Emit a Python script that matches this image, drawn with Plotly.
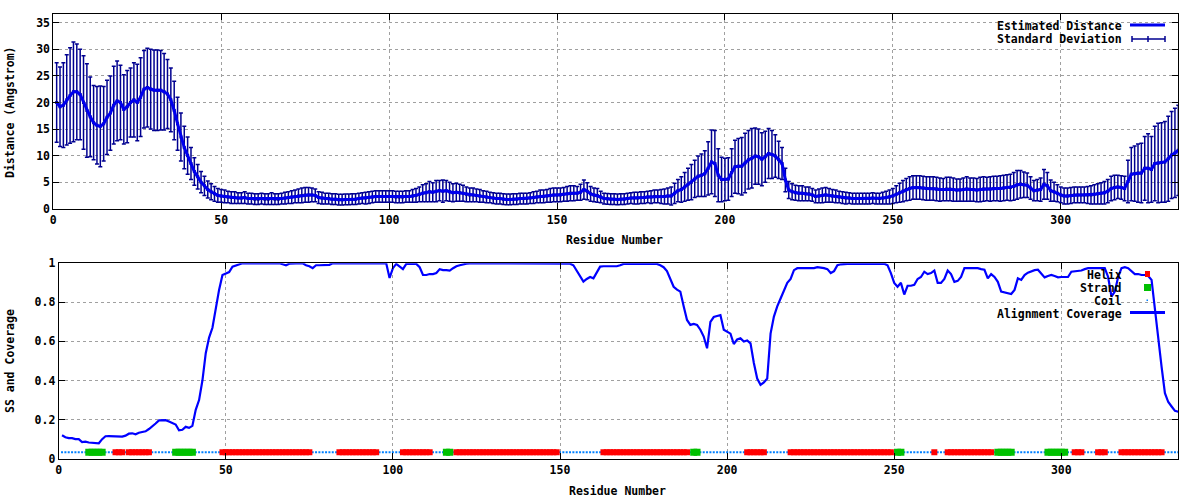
import plotly.graph_objects as go

# ---------------- data ----------------
residues = list(range(1, 336))

est_distance = [
    20.0, 19.2, 19.5, 20.5, 21.3, 22.0, 22.0, 21.5, 20.0, 18.5,
    17.3, 16.2, 15.7, 15.5, 16.0, 17.2, 18.0, 19.5, 20.3, 20.0,
    18.7, 19.2, 20.0, 20.5, 20.0, 21.0, 22.5, 22.8, 22.5, 22.3,
    22.3, 22.3, 22.0, 21.6, 20.5, 18.5, 16.0, 13.5, 11.5, 10.0,
    8.5, 7.0, 6.0, 5.0, 4.3, 3.6, 3.2, 2.8, 2.5, 2.4,
    2.3, 2.2, 2.1, 2.1, 2.0, 2.0, 2.1, 1.9, 1.9, 1.8,
    1.8, 1.9, 1.8, 1.8, 1.9, 1.8, 1.8, 1.9, 2.0, 2.1,
    2.2, 2.3, 2.4, 2.5, 2.6, 2.6, 2.6, 2.5, 2.1, 2.0,
    1.9, 1.9, 1.8, 1.8, 1.7, 1.7, 1.75, 1.75, 1.8, 1.8,
    1.9, 2.0, 2.0, 2.1, 2.2, 2.3, 2.3, 2.3, 2.3, 2.3,
    2.3, 2.2, 2.2, 2.2, 2.3, 2.3, 2.4, 2.5, 2.7, 2.9,
    3.0, 3.2, 3.1, 3.3, 3.4, 3.3, 3.4, 3.2, 3.0, 3.1,
    3.0, 2.9, 2.7, 2.6, 2.6, 2.5, 2.4, 2.3, 2.2, 2.1,
    2.0, 1.9, 1.9, 1.8, 1.75, 1.75, 1.8, 1.8, 1.9, 1.9,
    1.9, 2.0, 2.1, 2.2, 2.3, 2.3, 2.4, 2.5, 2.6, 2.6,
    2.6, 2.7, 2.8, 2.9, 2.9, 2.9, 3.1, 3.6, 3.3, 2.8,
    2.6, 2.5, 2.2, 1.9, 1.85, 1.8, 1.8, 1.75, 1.8, 1.8,
    1.9, 2.0, 2.0, 2.0, 2.1, 2.1, 2.2, 2.2, 2.3, 2.3,
    2.3, 2.3, 2.4, 2.4, 2.9, 3.4, 3.6, 4.1, 4.6, 5.0,
    5.6, 6.1, 6.3, 6.6, 7.6, 8.8, 8.5, 6.3, 5.5, 5.5,
    5.6, 6.8, 7.9, 8.0, 8.0, 8.6, 9.2, 9.5, 9.9, 9.8,
    9.3, 9.8, 10.4, 10.2, 9.9, 9.2, 8.5, 5.4, 3.5, 3.2,
    3.0, 2.9, 2.9, 2.8, 2.8, 2.6, 2.3, 2.4, 2.5, 2.6,
    2.5, 2.4, 2.3, 2.2, 2.1, 2.0, 2.0, 1.9, 1.9, 1.9,
    1.9, 1.9, 1.9, 2.0, 1.9, 1.9, 2.0, 2.1, 2.2, 2.4,
    2.7, 3.0, 3.3, 3.6, 3.8, 4.0, 4.0, 4.0, 3.9, 3.8,
    3.8, 3.8, 3.7, 3.6, 3.6, 3.7, 3.7, 3.6, 3.5, 3.5,
    3.6, 3.7, 3.6, 3.6, 3.5, 3.6, 3.7, 3.7, 3.7, 3.8,
    3.8, 3.8, 3.9, 4.0, 4.0, 4.2, 4.5, 4.6, 4.5, 4.4,
    3.9, 3.4, 3.5, 3.6, 4.6, 4.3, 3.4, 3.2, 2.9, 2.6,
    2.4, 2.4, 2.5, 2.6, 2.6, 2.6, 2.6, 2.6, 2.6, 2.7,
    2.8, 2.9, 3.0, 3.3, 3.8, 4.0, 4.1, 4.0, 3.8, 5.1,
    6.5, 6.6, 6.7, 6.7, 7.6, 7.6, 7.4, 8.5, 8.6, 8.7,
    8.8, 9.4, 10.1, 10.5, 11.0,
]

std_deviation = [
    7.5, 7.5, 8.0, 8.5, 9.0, 9.4, 9.0, 8.5, 8.8, 8.8,
    7.5, 7.0, 7.3, 7.6, 7.0, 7.0, 7.0, 7.3, 7.5, 7.0,
    6.5, 6.8, 6.5, 7.0, 7.2, 7.4, 7.3, 7.4, 7.5, 7.6,
    7.6, 7.5, 7.2, 6.5, 6.0, 5.5, 5.0, 4.5, 4.0, 3.5,
    3.0, 2.6, 2.3, 2.0, 1.8, 1.6, 1.5, 1.4, 1.3, 1.2,
    1.2, 1.1, 1.1, 1.1, 1.0, 1.0, 1.1, 1.0, 1.0, 1.0,
    1.0, 1.0, 1.0, 1.0, 1.1, 1.0, 1.0, 1.0, 1.1, 1.1,
    1.2, 1.2, 1.3, 1.4, 1.4, 1.4, 1.3, 1.2, 1.1, 1.1,
    1.0, 1.0, 1.0, 1.0, 1.0, 1.0, 1.0, 1.0, 1.0, 1.0,
    1.0, 1.0, 1.1, 1.1, 1.1, 1.1, 1.1, 1.1, 1.1, 1.1,
    1.1, 1.1, 1.1, 1.1, 1.1, 1.1, 1.2, 1.3, 1.4, 1.6,
    1.7, 1.9, 1.8, 2.0, 1.9, 2.1, 1.9, 1.8, 1.7, 1.7,
    1.6, 1.5, 1.4, 1.3, 1.3, 1.2, 1.2, 1.1, 1.1, 1.0,
    1.0, 1.0, 1.0, 1.0, 1.0, 1.0, 1.0, 1.0, 1.0, 1.0,
    1.0, 1.0, 1.1, 1.1, 1.2, 1.2, 1.2, 1.3, 1.3, 1.3,
    1.3, 1.3, 1.4, 1.4, 1.4, 1.3, 1.5, 1.8, 1.6, 1.4,
    1.3, 1.3, 1.1, 1.0, 1.0, 1.0, 1.0, 1.0, 1.0, 1.0,
    1.0, 1.0, 1.1, 1.1, 1.1, 1.1, 1.1, 1.2, 1.2, 1.2,
    1.3, 1.4, 1.5, 1.7, 1.9, 2.1, 2.4, 2.7, 3.0, 3.3,
    3.5, 3.8, 4.0, 4.3, 5.0, 6.0, 6.2, 5.0, 4.2, 4.0,
    4.0, 4.5, 5.0, 5.2, 5.4, 5.6, 5.5, 5.6, 5.3, 5.2,
    5.0, 4.8, 4.7, 4.5, 4.0, 3.5, 3.0, 2.2, 1.6, 1.5,
    1.4, 1.4, 1.4, 1.3, 1.3, 1.2, 1.2, 1.3, 1.4, 1.4,
    1.3, 1.2, 1.2, 1.1, 1.1, 1.1, 1.0, 1.0, 1.0, 1.0,
    1.0, 1.0, 1.0, 1.0, 1.0, 1.0, 1.1, 1.2, 1.3, 1.4,
    1.6, 1.8, 2.0, 2.1, 2.2, 2.2, 2.2, 2.2, 2.2, 2.2,
    2.2, 2.2, 2.2, 2.2, 2.1, 2.2, 2.2, 2.2, 2.1, 2.1,
    2.2, 2.3, 2.2, 2.2, 2.2, 2.3, 2.3, 2.2, 2.3, 2.3,
    2.3, 2.4, 2.4, 2.4, 2.5, 2.6, 2.7, 2.6, 2.4, 2.3,
    2.1, 1.9, 2.0, 2.2, 2.8, 2.5, 2.0, 1.8, 1.6, 1.5,
    1.5, 1.5, 1.5, 1.5, 1.5, 1.5, 1.5, 1.6, 1.7, 1.8,
    1.9, 2.0, 2.1, 2.2, 2.3, 2.3, 2.2, 2.2, 2.3, 4.0,
    5.0, 5.2, 5.5, 5.6, 6.0, 6.5, 6.2, 7.0, 7.5, 7.5,
    7.6, 8.0, 8.2, 8.4, 8.5,
]

coverage = [
    0.120, 0.110, 0.105, 0.105, 0.100, 0.100, 0.085, 0.087, 0.083, 0.082,
    0.082, 0.079, 0.100, 0.115, 0.116, 0.116, 0.115, 0.113, 0.113, 0.118,
    0.128, 0.130, 0.125, 0.133, 0.137, 0.140, 0.152, 0.165, 0.180, 0.196,
    0.198, 0.197, 0.190, 0.183, 0.175, 0.145, 0.148, 0.163, 0.158, 0.168,
    0.250, 0.300, 0.400, 0.540, 0.620, 0.670, 0.780, 0.865, 0.940, 0.948,
    0.955, 0.983, 0.990, 0.997, 1.000, 1.000, 1.000, 1.000, 1.000, 1.000,
    1.000, 1.000, 1.000, 1.000, 1.000, 1.000, 0.995, 0.990, 0.998, 1.000,
    1.000, 1.000, 1.000, 0.990, 0.985, 0.975, 0.990, 0.990, 0.990, 0.990,
    0.992, 1.000, 1.000, 1.000, 1.000, 1.000, 1.000, 1.000, 1.000, 1.000,
    1.000, 1.000, 1.000, 1.000, 1.000, 1.000, 1.000, 1.000, 0.925, 0.975,
    0.997, 0.985, 0.970, 0.997, 0.997, 0.997, 0.997, 0.980, 0.940, 0.940,
    0.945, 0.945, 0.950, 0.970, 0.965, 0.965, 0.963, 0.975, 0.985, 0.990,
    0.995, 0.998, 1.000, 1.000, 1.000, 1.000, 1.000, 1.000, 1.000, 1.000,
    1.000, 1.000, 1.000, 1.000, 1.000, 1.000, 1.000, 1.000, 1.000, 1.000,
    1.000, 1.000, 1.000, 1.000, 1.000, 1.000, 1.000, 1.000, 1.000, 1.000,
    1.000, 1.000, 0.998, 0.990, 0.960, 0.930, 0.906, 0.920, 0.930, 0.923,
    0.950, 0.983, 0.985, 0.985, 0.985, 0.983, 0.985, 0.990, 0.997, 0.997,
    0.997, 0.997, 0.997, 0.997, 0.997, 0.997, 0.997, 0.997, 0.997, 0.990,
    0.980, 0.960, 0.920, 0.880, 0.865, 0.855, 0.780, 0.710, 0.685, 0.690,
    0.685, 0.660, 0.625, 0.565, 0.700, 0.725, 0.730, 0.735, 0.660, 0.650,
    0.640, 0.587, 0.610, 0.616, 0.600, 0.605, 0.590, 0.490, 0.410, 0.378,
    0.390, 0.410, 0.640, 0.727, 0.780, 0.820, 0.860, 0.900, 0.920, 0.965,
    0.975, 0.975, 0.977, 0.978, 0.978, 0.975, 0.980, 0.978, 0.975, 0.970,
    0.950, 0.960, 0.990, 0.995, 0.997, 0.997, 0.997, 0.997, 0.998, 0.998,
    1.000, 1.000, 1.000, 1.000, 1.000, 1.000, 0.998, 0.990, 0.950, 0.900,
    0.880, 0.900, 0.840, 0.885, 0.885, 0.890, 0.920, 0.930, 0.957, 0.945,
    0.950, 0.963, 0.900, 0.900, 0.920, 0.963, 0.945, 0.905, 0.910, 0.930,
    0.975, 0.975, 0.975, 0.975, 0.975, 0.970, 0.967, 0.923, 0.945, 0.930,
    0.905, 0.855, 0.850, 0.845, 0.843, 0.864, 0.923, 0.915, 0.940, 0.952,
    0.960, 0.965, 0.967, 0.950, 0.928, 0.935, 0.940, 0.935, 0.928, 0.930,
    0.930, 0.930, 0.957, 0.960, 0.963, 0.963, 0.970, 0.975, 0.975, 0.975,
    0.975, 0.975, 0.975, 0.930, 0.830, 0.855, 0.930, 0.975, 0.980, 0.975,
    0.960, 0.945, 0.945, 0.940, 0.940, 0.935, 0.915, 0.760, 0.610, 0.470,
    0.335, 0.290, 0.267, 0.245, 0.240,
]

# secondary structure segments (first residue, last residue)
helix_segments = [(17, 19), (21, 27), (49, 75), (84, 95), (103, 111), (119, 149),
                  (163, 188), (206, 211), (219, 249), (262, 262), (266, 279),
                  (304, 306), (311, 313), (318, 330)]
strand_segments = [(9, 13), (35, 40), (116, 117), (190, 191), (251, 252),
                   (281, 285), (296, 301)]
ss_level = 0.033

x_ticks = [0, 50, 100, 150, 200, 250, 300]
top_y_ticks = [0, 5, 10, 15, 20, 25, 30, 35]
bottom_y_ticks = [0, 0.2, 0.4, 0.6, 0.8, 1]

# ---------------- derived ----------------
helix_res = [r for a, b in helix_segments for r in range(a, b + 1)]
strand_res = [r for a, b in strand_segments for r in range(a, b + 1)]
coil_res = [r for r in residues if r not in helix_res and r not in strand_res]

W, H = 1200, 500
def px(x):
    return x / W
def py(y):
    return 1 - y / H

FONT = dict(family="DejaVu Sans Mono", size=11.5, color="black", weight="bold")
NAVY = "#000090"
BLUE = "#0000ee"
BLUE2 = "#0000ff"
RED = "#ff0000"
GREEN = "#00c000"
COIL = "#0080ff"
GRID = "#a0a0a0"

fig = go.Figure()

# top: standard deviation error bars
fig.add_trace(go.Scatter(
    x=residues, y=est_distance, mode="markers",
    marker=dict(size=3, color=NAVY, symbol="square"),
    error_y=dict(type="data", array=std_deviation, visible=True,
                 color=NAVY, thickness=1.5, width=2),
    xaxis="x", yaxis="y", showlegend=False, hoverinfo="skip"))
# top: estimated distance line
fig.add_trace(go.Scatter(
    x=residues, y=est_distance, mode="lines",
    line=dict(color=BLUE, width=3),
    xaxis="x", yaxis="y", showlegend=False))

# bottom: coil, helix, strand, coverage
fig.add_trace(go.Scatter(
    x=coil_res, y=[ss_level] * len(coil_res), mode="markers",
    marker=dict(size=2, color=COIL, symbol="square"),
    xaxis="x2", yaxis="y2", showlegend=False))
fig.add_trace(go.Scatter(
    x=helix_res, y=[ss_level] * len(helix_res), mode="markers",
    marker=dict(size=6, color=RED, symbol="square", line=dict(width=0)),
    xaxis="x2", yaxis="y2", showlegend=False))
fig.add_trace(go.Scatter(
    x=strand_res, y=[ss_level] * len(strand_res), mode="markers",
    marker=dict(size=7, color=GREEN, symbol="square", line=dict(width=0)),
    xaxis="x2", yaxis="y2", showlegend=False))
fig.add_trace(go.Scatter(
    x=residues, y=coverage, mode="lines",
    line=dict(color=BLUE2, width=2.2),
    xaxis="x2", yaxis="y2", showlegend=False))

axis_common = dict(
    showline=True, linecolor="black", linewidth=1, mirror="allticks",
    ticks="inside", ticklen=6, tickcolor="black", tickwidth=1,
    showgrid=True, gridcolor=GRID, griddash="dot", gridwidth=1,
    zeroline=False, tickfont=FONT, automargin=False, fixedrange=True)

fig.update_layout(
    width=W, height=H,
    margin=dict(l=0, r=0, t=0, b=0),
    paper_bgcolor="white", plot_bgcolor="white",
    showlegend=False,
    xaxis=dict(domain=[px(53.3), px(1178.3)], range=[0, 335], anchor="y",
               tickvals=x_ticks, **axis_common),
    yaxis=dict(domain=[py(208.7), py(14.3)], range=[0, 36.6], anchor="x",
               tickvals=top_y_ticks, **axis_common),
    xaxis2=dict(domain=[px(58.7), px(1178.3)], range=[0, 335], anchor="y2",
                tickvals=x_ticks, **axis_common),
    yaxis2=dict(domain=[py(458.7), py(263.3)], range=[0, 1], anchor="x2",
                tickvals=bottom_y_ticks, ticktext=["0", "0.2", "0.4", "0.6", "0.8", "1"],
                **axis_common),
)

ann = []
def text(t, x, y, xanchor="center", angle=0):
    ann.append(dict(text=t, x=px(x), y=py(y), xref="paper", yref="paper",
                    xanchor=xanchor, yanchor="middle", showarrow=False,
                    font=FONT, textangle=angle))

# axis titles
text("Distance (Angstrom)", 10, 112, angle=-90)
text("Residue Number", 614, 240)
text("SS and Coverage", 10, 361, angle=-90)
text("Residue Number", 617, 491)

shapes = []
def rect(x0, y0, x1, y1, color, layer="above"):
    shapes.append(dict(type="rect", xref="paper", yref="paper",
                       x0=px(x0), x1=px(x1), y0=py(y1), y1=py(y0),
                       fillcolor=color, line=dict(width=0), layer=layer))
def line(x0, y0, x1, y1, color, width):
    shapes.append(dict(type="line", xref="paper", yref="paper",
                       x0=px(x0), x1=px(x1), y0=py(y0), y1=py(y1),
                       line=dict(color=color, width=width), layer="above"))

# legend backgrounds (opaque key boxes hide the grid)
rect(997, 15, 1172, 46, "white", layer="between")
rect(997, 264, 1172, 320, "white", layer="between")

# top legend
text("Estimated Distance", 1124, 26, xanchor="right")
text("Standard Deviation", 1124, 39, xanchor="right")
line(1130, 25, 1165, 25, BLUE, 3)
line(1132, 39, 1165, 39, NAVY, 1.5)
line(1132, 36, 1132, 42, NAVY, 1.5)
line(1165, 36, 1165, 42, NAVY, 1.5)
line(1148, 36, 1148, 42, NAVY, 1.5)

# bottom legend
text("Helix", 1124, 275, xanchor="right")
text("Strand", 1124, 288, xanchor="right")
text("Coil", 1124, 301, xanchor="right")
text("Alignment Coverage", 1124, 314, xanchor="right")
rect(1145, 271, 1150, 277, RED)
rect(1144, 284, 1151, 291, GREEN)
rect(1146.5, 299.5, 1148, 301, COIL)
line(1130, 312.5, 1165, 312.5, BLUE2, 3)

fig.update_layout(annotations=ann, shapes=shapes)

fig.write_html(
    "out.html",
    config={"displayModeBar": False, "staticPlot": True},
    post_script="document.body.style.margin='0';document.body.style.padding='0';",
)
